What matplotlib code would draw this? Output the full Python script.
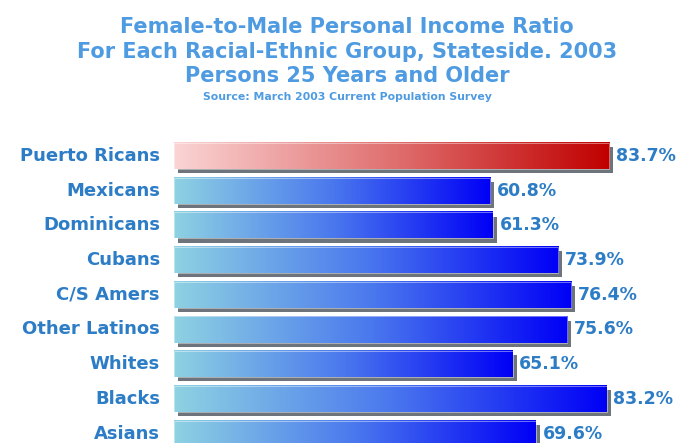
import matplotlib.pyplot as plt
import numpy as np
from matplotlib.colors import LinearSegmentedColormap
from matplotlib.patches import Rectangle

plt.rcParams['font.family'] = ['DejaVu Sans']

groups = ['Puerto Ricans', 'Mexicans', 'Dominicans', 'Cubans', 'C/S Amers',
          'Other Latinos', 'Whites', 'Blacks', 'Asians']
ratios = [83.7, 60.8, 61.3, 73.9, 76.4, 75.6, 65.1, 83.2, 69.6]
highlight = 'Puerto Ricans'

title_lines = ['Female-to-Male Personal Income Ratio',
               'For Each Racial-Ethnic Group, Stateside. 2003',
               'Persons 25 Years and Older']
source = 'Source: March 2003 Current Population Survey'

text_blue = '#4e9be2'
label_blue = '#2c7cc6'
blue_cmap = LinearSegmentedColormap.from_list('blue', ['#8ed2e2', '#4a78ee', '#0000f6'])
red_cmap = LinearSegmentedColormap.from_list('red', ['#fbd4d4', '#e07070', '#c00000'])

W, H = 694, 443
row0, step = 156, 34.7  # pixel centre of first row, row spacing

fig = plt.figure(figsize=(W / 100, H / 100), dpi=100)
fig.patch.set_facecolor('white')

# axes: left edge of bars at x=174px, rows from y=130px down to bottom
ax = fig.add_axes([174 / W, 0, 1 - 174 / W, (H - 130) / H])
ax.axis('off')

bar_h = 0.75
grad = np.linspace(0, 1, 256).reshape(1, -1)
for i, (name, val) in enumerate(zip(groups, ratios)):
    # drop shadow
    ax.add_patch(Rectangle((0.8, i - bar_h / 2 + 0.12), val, bar_h,
                           facecolor='#3c4650', edgecolor='none', alpha=0.75, zorder=1))
    cmap = red_cmap if name == highlight else blue_cmap
    ax.imshow(grad, cmap=cmap, aspect='auto', interpolation='bicubic',
              extent=(0, val, i + bar_h / 2, i - bar_h / 2), zorder=2)
    ax.add_patch(Rectangle((0, i - bar_h / 2), val, bar_h, facecolor='none',
                           edgecolor='#ffffff', linewidth=0.6, alpha=0.5, zorder=3))
    ax.text(val + 1.3, i, f'{val:.1f}%', ha='left', va='center', fontsize=12.5,
            fontweight='bold', color=label_blue, zorder=4)
    fig.text(160 / W, 1 - (row0 + step * i) / H, name, ha='right', va='center',
             fontsize=13, fontweight='bold', color=label_blue)
ax.set_xlim(0, 100)
ax.set_ylim((H - row0) / step, -(row0 - 130) / step)

for k, line in enumerate(title_lines):
    fig.text(0.5, 1 - (27 + 24.5 * k) / H, line, ha='center', va='center',
             fontsize=15, fontweight='bold', color=text_blue)
fig.text(0.5, 1 - 97 / H, source, ha='center', va='center', fontsize=7.8,
         fontweight='bold', color=text_blue)

fig.savefig('out.png', dpi=100, facecolor='white')
